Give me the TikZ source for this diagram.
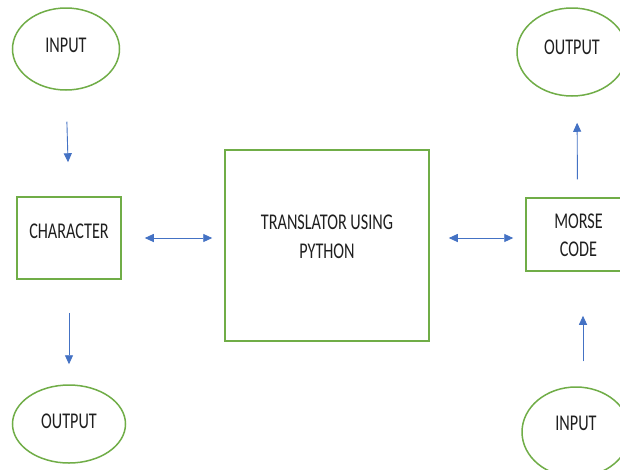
\documentclass[tikz,border=0pt]{standalone}
\usepackage{fontspec}
\usepackage{graphicx}
\setmainfont{Carlito}
\usetikzlibrary{arrows.meta,shapes.geometric}
\definecolor{boxgreen}{HTML}{70AD47}
\definecolor{flowblue}{HTML}{4472C4}
\definecolor{ink}{HTML}{1F1F1F}
% condensed, centred text block, lifted by #1 without changing its box
\newcommand{\slim}[2][0pt]{\raisebox{#1}[\height][\depth]{\scalebox{0.72}[1]{\begin{tabular}{@{}c@{}}#2\end{tabular}}}}
\begin{document}
\begin{tikzpicture}[x=1pt,y=-1pt,
  every node/.style={font=\fontsize{22.5}{28.5}\selectfont, text=ink, inner sep=0pt},
  box/.style={draw=boxgreen, line width=1.5pt, rectangle},
  oval/.style={draw=boxgreen, line width=1.5pt, ellipse},
  flow/.style={-{Triangle[length=9pt,width=8pt]}, draw=flowblue, line width=0.9pt},
  both/.style={{Triangle[length=9pt,width=8pt]}-{Triangle[length=9pt,width=8pt]}, draw=flowblue, line width=0.9pt}
]
\useasboundingbox (0,0) rectangle (620,469);
\fill[white] (0,0) rectangle (620,469);
\clip (0,0) rectangle (620,469);

% left column
\node[oval, minimum width=107pt, minimum height=82pt] (in1) at (66,49) {\slim[2.5pt]{INPUT}};
\node[box, minimum width=104pt, minimum height=82pt] (char) at (69,238) {\slim[5.5pt]{CHARACTER}};
\node[oval, minimum width=113pt, minimum height=78pt] (out1) at (69,424) {\slim[1pt]{OUTPUT}};

% translator
\node[box, minimum width=204pt, minimum height=191pt] (big) at (327,245.5) {};
\node (bigtext) at ([yshift=7pt]big.center) {\slim{TRANSLATOR USING\\PYTHON}};

% right column
\node[box, minimum width=105pt, minimum height=73pt] (morse) at (578.5,234.5) {\slim[-2.5pt]{MORSE\\CODE}};
\node[oval, minimum width=110pt, minimum height=88pt] (out2) at (572,52) {\slim[3.5pt]{OUTPUT}};
\node[oval, minimum width=108pt, minimum height=90pt] (in2) at (576,432) {\slim[7.5pt]{INPUT}};

% connectors
\draw[flow, shorten <=31pt, shorten >=34pt] (in1.south) -- (char.north);
\draw[flow, shorten <=33pt, shorten >=20pt] (char.south) -- (out1.north);
\draw[both, shorten <=23pt, shorten >=12pt] (char.east) -- (char.east -| big.west);
\draw[both, shorten <=19pt, shorten >=12pt] (big.east |- char.east) -- (morse.west |- char.east);
\draw[flow, shorten <=18pt, shorten >=26pt] ([xshift=-1pt]morse.north) -- ([xshift=5pt]out2.south);
\draw[flow, shorten <=25pt, shorten >=44pt] ([xshift=7pt]in2.north) -- ([xshift=4.5pt]morse.south);
\end{tikzpicture}
\end{document}
